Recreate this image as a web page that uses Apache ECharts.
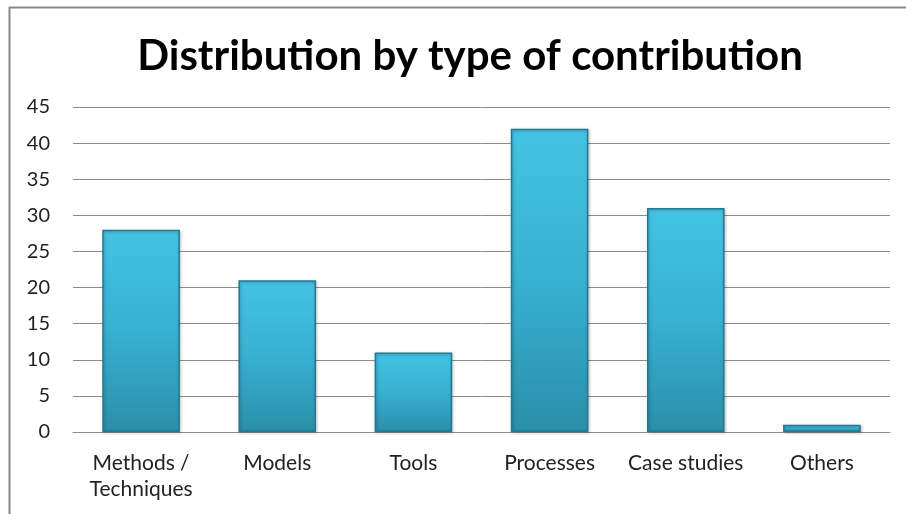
<!DOCTYPE html>
<html><head><meta charset="utf-8">
<script src="https://cdn.jsdelivr.net/npm/echarts@6/dist/echarts.min.js"></script>
<style>html,body{margin:0;padding:0;background:#fff}#c{width:906px;height:514px}</style>
</head><body><div id="c"></div>
<script>
var categories = ['Methods /\nTechniques', 'Models', 'Tools', 'Processes', 'Case studies', 'Others'];
var values = [28, 21, 11, 42, 31, 1];
var yTicks = {min: 0, max: 45, interval: 5};
var titleText = 'Distribution by type of contribution';

var chart = echarts.init(document.getElementById('c'));
chart.setOption({
  animation: false,
  backgroundColor: '#fff',
  textStyle: {fontFamily: 'Lato'},
  title: {
    text: titleText, left: 465, textAlign: 'center', top: 30,
    textStyle: {fontFamily: 'Lato', fontSize: 42, fontWeight: 'bold', color: '#000'}
  },
  graphic: [
    {type: 'line', shape: {x1: 9, y1: 7.5, x2: 906, y2: 7.5}, style: {stroke: '#888', lineWidth: 2}},
    {type: 'line', shape: {x1: 9.5, y1: 7, x2: 9.5, y2: 514}, style: {stroke: '#888', lineWidth: 2}}
  ],
  grid: {left: 73, right: 16, top: 107, bottom: 82},
  xAxis: {
    type: 'category', data: categories,
    axisLine: {show: true, lineStyle: {color: '#8c8c8c', width: 1}},
    axisTick: {show: false},
    axisLabel: {color: '#222', fontSize: 21, margin: 18, lineHeight: 26, interval: 0}
  },
  yAxis: {
    type: 'value', min: yTicks.min, max: yTicks.max, interval: yTicks.interval,
    axisLine: {show: false}, axisTick: {show: false},
    axisLabel: {color: '#222', fontSize: 20, margin: 23},
    splitLine: {lineStyle: {color: '#8c8c8c', width: 1}}
  },
  series: [{
    type: 'bar', data: values, barWidth: '57%',
    itemStyle: {
      color: new echarts.graphic.LinearGradient(0, 0, 0, 1, [
        {offset: 0, color: '#44c3e4'},
        {offset: 0.5, color: '#38b0d2'},
        {offset: 1, color: '#2a8fa9'}
      ]),
      borderColor: '#23798f', borderWidth: 1.5,
      shadowColor: 'rgba(0,0,0,0.25)', shadowBlur: 3, shadowOffsetX: 1, shadowOffsetY: 1
    }
  }]
});
</script></body></html>
